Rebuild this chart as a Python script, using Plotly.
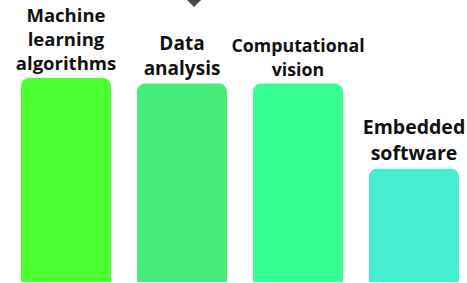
import plotly.graph_objects as go

categories = ["Machine<br>learning<br>algorithms", "Data<br>analysis", "Computational<br>vision", "Embedded<br>software"]
values = [72, 70, 70, 40]
colors = ["#4cff33", "#48ec78", "#36ff90", "#45eed0"]
label_sizes = [18.5, 19, 17.8, 19.5]

x_pos = list(range(len(categories)))

fig = go.Figure(
    go.Bar(
        x=x_pos,
        y=values,
        width=0.776,
        marker=dict(color=colors, cornerradius=8, line=dict(width=0)),
        text=categories,
        textposition="outside",
        textfont=dict(family="Open Sans", size=label_sizes, color="#111111", weight=700),
        constraintext="none",
        cliponaxis=False,
        hoverinfo="skip",
    )
)

fig.add_shape(
    type="path",
    xref="paper", yref="paper",
    path="M 0.364 1.06 L 0.467 1.06 L 0.4155 0.975 Z",
    fillcolor="#4a4a4a",
    line=dict(width=0),
)

fig.update_layout(
    width=467,
    height=283,
    margin=dict(l=0, r=0, t=0, b=1),
    plot_bgcolor="white",
    paper_bgcolor="white",
    showlegend=False,
    xaxis=dict(range=[-0.569, 3.457], visible=False, fixedrange=True),
    yaxis=dict(range=[0, 99.5], visible=False, fixedrange=True),
)

fig.write_html(
    "out.html",
    config={"displayModeBar": False},
    post_script="document.body.style.margin='0';",
)
